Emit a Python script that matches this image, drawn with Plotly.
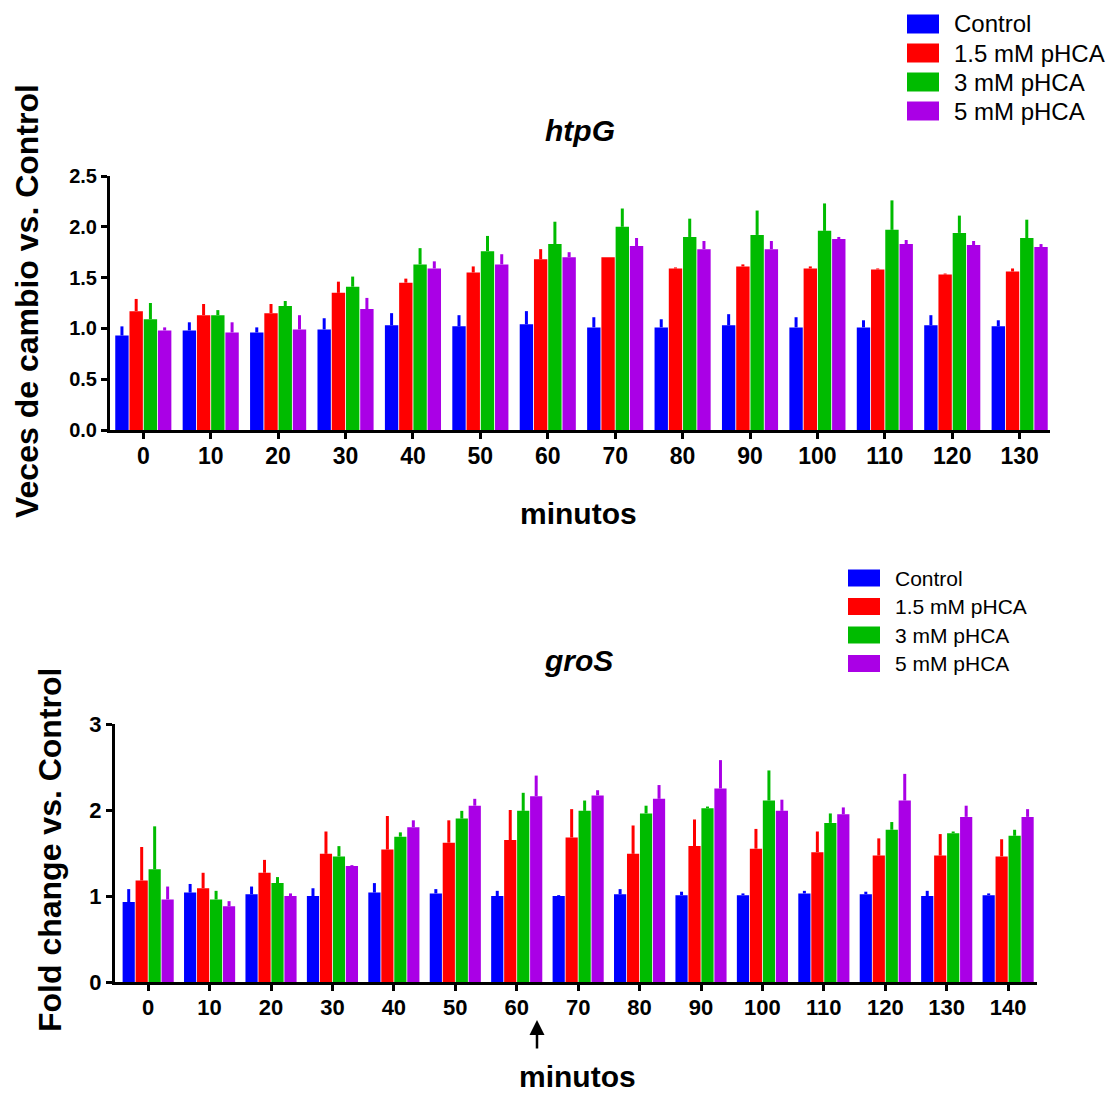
import plotly.graph_objects as go

W, H = 1110, 1093

series_names = ["Control", "1.5 mM pHCA", "3 mM pHCA", "5 mM pHCA"]
colors = ["#0000FF", "#FF0000", "#00BB00", "#AA00E6"]

# ---- htpG (top) ----
htpg_minutes = ["0", "10", "20", "30", "40", "50", "60", "70", "80", "90", "100", "110", "120", "130"]
htpg_control = [0.93, 0.98, 0.96, 0.99, 1.03, 1.02, 1.04, 1.01, 1.01, 1.03, 1.01, 1.01, 1.03, 1.02]
htpg_control_top = [1.02, 1.06, 1.01, 1.10, 1.15, 1.13, 1.17, 1.11, 1.09, 1.14, 1.11, 1.08, 1.13, 1.08]
htpg_15 = [1.17, 1.13, 1.15, 1.35, 1.45, 1.55, 1.68, 1.70, 1.59, 1.61, 1.59, 1.58, 1.53, 1.56]
htpg_15_top = [1.29, 1.24, 1.24, 1.46, 1.49, 1.61, 1.78, 1.70, 1.60, 1.63, 1.61, 1.59, 1.54, 1.59]
htpg_3 = [1.09, 1.13, 1.22, 1.41, 1.63, 1.76, 1.83, 2.00, 1.90, 1.92, 1.96, 1.97, 1.94, 1.89]
htpg_3_top = [1.25, 1.18, 1.27, 1.51, 1.79, 1.91, 2.05, 2.18, 2.08, 2.16, 2.23, 2.26, 2.11, 2.07]
htpg_5 = [0.98, 0.96, 0.99, 1.19, 1.59, 1.63, 1.70, 1.81, 1.78, 1.78, 1.88, 1.83, 1.82, 1.80]
htpg_5_top = [1.01, 1.06, 1.13, 1.30, 1.66, 1.73, 1.75, 1.89, 1.86, 1.86, 1.90, 1.87, 1.86, 1.83]

# ---- groS (bottom) ----
gros_minutes = ["0", "10", "20", "30", "40", "50", "60", "70", "80", "90", "100", "110", "120", "130", "140"]
gros_control = [0.93, 1.04, 1.02, 1.00, 1.04, 1.03, 1.00, 1.00, 1.02, 1.01, 1.01, 1.03, 1.02, 1.00, 1.01]
gros_control_top = [1.08, 1.14, 1.11, 1.09, 1.15, 1.08, 1.06, 1.01, 1.08, 1.05, 1.03, 1.06, 1.05, 1.06, 1.03]
gros_15 = [1.18, 1.09, 1.27, 1.49, 1.54, 1.62, 1.65, 1.68, 1.49, 1.58, 1.55, 1.51, 1.47, 1.47, 1.46]
gros_15_top = [1.57, 1.27, 1.42, 1.75, 1.93, 1.88, 2.00, 2.01, 1.82, 1.89, 1.78, 1.75, 1.67, 1.72, 1.66]
gros_3 = [1.31, 0.96, 1.15, 1.46, 1.69, 1.90, 1.99, 1.99, 1.96, 2.02, 2.11, 1.85, 1.77, 1.73, 1.70]
gros_3_top = [1.81, 1.06, 1.22, 1.58, 1.74, 1.99, 2.20, 2.11, 2.05, 2.04, 2.46, 1.96, 1.86, 1.75, 1.77]
gros_5 = [0.96, 0.88, 1.00, 1.35, 1.80, 2.05, 2.16, 2.17, 2.13, 2.25, 1.99, 1.95, 2.11, 1.92, 1.92]
gros_5_top = [1.11, 0.94, 1.03, 1.36, 1.88, 2.13, 2.40, 2.23, 2.29, 2.58, 2.12, 2.03, 2.42, 2.05, 2.01]

top_means = [htpg_control, htpg_15, htpg_3, htpg_5]
top_tops = [htpg_control_top, htpg_15_top, htpg_3_top, htpg_5_top]
bot_means = [gros_control, gros_15, gros_3, gros_5]
bot_tops = [gros_control_top, gros_15_top, gros_3_top, gros_5_top]

FONT = "Liberation Sans, Arial, sans-serif"


def px_x(px):
    return px / W


def px_y(py):
    return 1 - py / H


fig = go.Figure()

for i, name in enumerate(series_names):
    m = top_means[i]
    e = [max(t - v, 0) for t, v in zip(top_tops[i], m)]
    fig.add_trace(go.Bar(
        x=list(range(len(htpg_minutes))), y=m, name=name, marker_color=colors[i],
        marker_line_width=0, offsetgroup=str(i), xaxis="x", yaxis="y", showlegend=False,
        error_y=dict(type="data", symmetric=False, array=e, arrayminus=[0] * len(m),
                     width=0, thickness=3, color=colors[i]),
    ))
for i, name in enumerate(series_names):
    m = bot_means[i]
    e = [max(t - v, 0) for t, v in zip(bot_tops[i], m)]
    fig.add_trace(go.Bar(
        x=list(range(len(gros_minutes))), y=m, name=name, marker_color=colors[i],
        marker_line_width=0, offsetgroup=str(i), xaxis="x2", yaxis="y2", showlegend=False,
        error_y=dict(type="data", symmetric=False, array=e, arrayminus=[0] * len(m),
                     width=0, thickness=3, color=colors[i]),
    ))

axis_common = dict(showline=True, linewidth=3, linecolor="black", ticks="outside",
                   ticklen=6, tickwidth=3, tickcolor="black", showgrid=False,
                   zeroline=False, fixedrange=True, automargin=False)

fig.update_layout(
    width=W, height=H, margin=dict(l=0, r=0, t=0, b=0, pad=0, autoexpand=False),
    paper_bgcolor="white", plot_bgcolor="white",
    barmode="group", bargap=0.155, bargroupgap=0.06,
    font=dict(family=FONT, color="black"),
    xaxis=dict(domain=[px_x(110), px_x(1050)], anchor="y",
               range=[-0.494, 13.45], tickvals=list(range(len(htpg_minutes))),
               ticktext=htpg_minutes, tickfont=dict(size=23, family=FONT, weight="bold"),
               ticklabelstandoff=-3, **axis_common),
    yaxis=dict(domain=[px_y(430), px_y(176)], anchor="x", range=[0, 2.5],
               dtick=0.5, tickformat=".1f",
               tickfont=dict(size=20, family=FONT, weight="bold"), **axis_common),
    xaxis2=dict(domain=[px_x(115), px_x(1037)], anchor="y2",
                range=[-0.54, 14.47], tickvals=list(range(len(gros_minutes))),
                ticktext=gros_minutes, tickfont=dict(size=22, family=FONT, weight="bold"),
                ticklabelstandoff=-2, **axis_common),
    yaxis2=dict(domain=[px_y(982), px_y(724)], anchor="x2", range=[0, 3],
                dtick=1, tickfont=dict(size=22, family=FONT, weight="bold"), **axis_common),
)

ann = []
shapes = []


def text(xp, yp, t, size, bold=True, italic=False, angle=0, xanchor="center"):
    ann.append(dict(x=px_x(xp), y=px_y(yp), xref="paper", yref="paper", text=t,
                    showarrow=False, xanchor=xanchor, yanchor="middle", textangle=angle,
                    font=dict(family=FONT, size=size, color="black",
                              weight="bold" if bold else "normal",
                              style="italic" if italic else "normal")))


text(580, 131, "htpG", 30, italic=True)
text(578, 660, "groS", 30, italic=True)
text(578, 513, "minutos", 30)
text(577, 1076, "minutos", 30)
text(27, 301, "Veces de cambio vs. Control", 32, angle=-90)
text(50, 850, "Fold change vs. Control", 32, angle=-90)

# arrow under 60 in bottom chart
ann.append(dict(x=px_x(537), y=px_y(1020), xref="paper", yref="paper", ax=0, ay=30,
                axref="pixel", ayref="pixel", showarrow=True, arrowhead=2, arrowsize=1.2,
                arrowwidth=2.5, arrowcolor="black", text=""))

# legends
for i, name in enumerate(series_names):
    cy = 24 + i * 29
    shapes.append(dict(type="rect", xref="paper", yref="paper",
                       x0=px_x(907), x1=px_x(939), y0=px_y(cy + 9.5), y1=px_y(cy - 9.5),
                       fillcolor=colors[i], line=dict(width=0)))
    text(952, cy, name, 24, bold=False, xanchor="left")
for i, name in enumerate(series_names):
    cy = 578 + i * 28.5
    shapes.append(dict(type="rect", xref="paper", yref="paper",
                       x0=px_x(848), x1=px_x(880), y0=px_y(cy + 8.5), y1=px_y(cy - 8.5),
                       fillcolor=colors[i], line=dict(width=0)))
    text(893, cy, name, 21, bold=False, xanchor="left")

fig.update_layout(annotations=ann, shapes=shapes)

fig.write_html("out.html")
